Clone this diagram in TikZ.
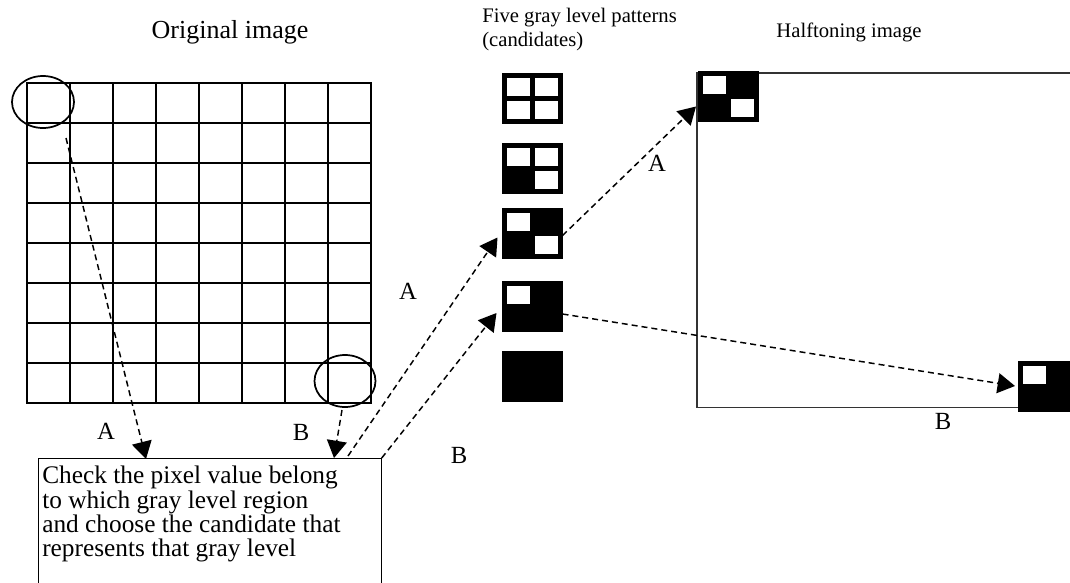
\documentclass[tikz,border=0pt]{standalone}
\usepackage{fontspec}
\setmainfont{Liberation Serif}
\usetikzlibrary{arrows.meta,calc,shapes.geometric}
\newcommand\patTL[1]{\fill[white] ([shift={(5,5)}]#1.north west) rectangle ([shift={(-2.5,-2.5)}]#1.center);}
\newcommand\patTR[1]{\fill[white] ([shift={(-5,5)}]#1.north east) rectangle ([shift={(2.5,-2.5)}]#1.center);}
\newcommand\patBL[1]{\fill[white] ([shift={(5,-5)}]#1.south west) rectangle ([shift={(-2.5,2.5)}]#1.center);}
\newcommand\patBR[1]{\fill[white] ([shift={(-5,-5)}]#1.south east) rectangle ([shift={(2.5,2.5)}]#1.center);}
\begin{document}
\begin{tikzpicture}[x=0.75pt,y=-0.75pt,
  txt/.style={font=\fontsize{18.5}{18}\selectfont, inner sep=0pt},
  bigtxt/.style={font=\fontsize{19.5}{18.3}\selectfont, inner sep=0pt},
  boxtxt/.style={font=\fontsize{19}{18.2}\selectfont, inner sep=0pt},
  smalltxt/.style={font=\fontsize{15.5}{18}\selectfont, inner sep=0pt},
  gridline/.style={line width=2.1pt, line cap=rect},
  ring/.style={draw, ellipse, line width=1.3pt, inner sep=0pt},
  pat/.style={fill=black, inner sep=0pt, outer sep=0pt, minimum width=45.75pt, minimum height=38.25pt},
  arr/.style={dash pattern=on 4.5pt off 3pt, line width=1.1pt, -{Triangle[length=13pt,width=15pt]}}]
\clip (0,0) rectangle (1070,582);
\fill[white] (0,0) rectangle (1070,582);
% titles
\node[bigtxt] (t1) at (230,32) {Original image};
\node[smalltxt, anchor=west, align=left] (t2) at (482,30) {Five gray level patterns\\(candidates)};
\node[smalltxt] (t3) at (849,32) {Halftoning image};
% grid
\foreach \i in {0,...,8} {
  \draw[gridline] (27+43*\i,83) -- (27+43*\i,403);
  \draw[gridline] (27,83+40*\i) -- (371,83+40*\i);
}
\node[ring, minimum width=46.5pt, minimum height=39pt] (c1) at (43,102) {};
\node[ring, minimum width=45.75pt, minimum height=39pt] (c2) at (345,381) {};
% patterns
\node[pat] (p1) at (532,98.5) {};
\node[pat] (p2) at (532,168) {};
\node[pat] (p3) at (532,233.5) {};
\node[pat] (p4) at (532,306) {};
\node[pat] (p5) at (532,376) {};
\patTL{p1}\patTR{p1}\patBL{p1}\patBR{p1}
\patTL{p2}\patTR{p2}\patBR{p2}
\patTL{p3}\patBR{p3}
\patTL{p4}
% halftoning image
\node[draw=black!80, line width=1.2pt, minimum width=285pt, minimum height=251pt, anchor=north west, inner sep=0pt] (half) at (696,72) {};
\node[pat] (h1) at (728.5,96.5) {};
\patTL{h1}\patBR{h1}
\node[pat] (h2) at (1048.5,386) {};
\patTL{h2}
% text box
\node[draw, line width=0.8pt, minimum width=257pt, minimum height=110pt, anchor=north west, inner sep=0pt] (box) at (38,458) {};
\node[boxtxt, anchor=north west, align=left] (boxtext) at (42,466) {Check the pixel value belong\\to which gray level region\\and choose the candidate that\\represents that gray level};
% connector end points
\coordinate (a1s) at (66,138);
\coordinate (a1e) at ($(box.north west)+(108,1)$);
\coordinate (b1s) at (342,410);
\coordinate (b1e) at ($(box.north west)+(296,0)$);
\coordinate (a2s) at ($(box.north west)+(310,-2)$);
\coordinate (b2s) at (box.north east);
% arrows
\draw[arr] (a1s) -- (a1e);
\draw[arr] (b1s) -- (b1e);
\draw[arr] (a2s) -- ([shift={(-4,4)}]p3.west);
\draw[arr] (b2s) -- ([shift={(-5,7)}]p4.west);
\draw[arr] ([shift={(0,2)}]p3.east) -- ([shift={(-2,10)}]h1.west);
\draw[arr] ([shift={(0,8)}]p4.east) -- ([shift={(-3,0)}]h2.west);
% labels
\node[txt] (la1) at (106,431) {A};
\node[txt] (lb1) at (301,432) {B};
\node[txt] (la2) at (408,291) {A};
\node[txt] (lb2) at (459,455) {B};
\node[txt] (la3) at (657,163) {A};
\node[txt] (lb3) at (943,421) {B};
\end{tikzpicture}
\end{document}
